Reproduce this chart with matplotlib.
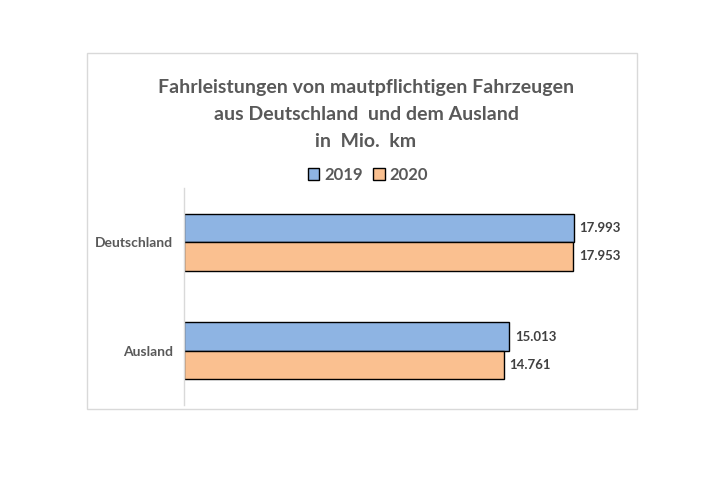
import numpy as np
import matplotlib
matplotlib.use("Agg")
import matplotlib.pyplot as plt
from matplotlib.patches import Rectangle

# Daten (Mio. km)
categories = ["Ausland", "Deutschland"]
values_2019 = [15013, 17993]
values_2020 = [14761, 17953]
series_labels = ["2019", "2020"]

BLUE = "#8EB4E3"
ORANGE = "#FAC090"
GREY = "#595959"
DARK = "#404040"
FONT = "Lato"


def fmt_de(v):
    return f"{v:,}".replace(",", ".")


fig = plt.figure(figsize=(7.27, 4.8), dpi=100)
fig.patch.set_facecolor("white")

# Rahmen um das Diagramm
fig.patches.append(Rectangle((87 / 727, 1 - 409 / 480), 550 / 727, 356 / 480,
                             transform=fig.transFigure, fill=False,
                             edgecolor="#d9d9d9", linewidth=1.0))

ax = fig.add_axes([184 / 727, 1 - 405 / 480, 433 / 727, 217 / 480])

y = np.arange(len(categories))
h = 0.262
bars19 = ax.barh(y + h / 2, values_2019, height=h, color=BLUE,
                 edgecolor="black", linewidth=1.0, label=series_labels[0])
bars20 = ax.barh(y - h / 2, values_2020, height=h, color=ORANGE,
                 edgecolor="black", linewidth=1.0, label=series_labels[1])

for bars, vals in ((bars19, values_2019), (bars20, values_2020)):
    for b, v in zip(bars, vals):
        ax.text(v + 280, b.get_y() + b.get_height() / 2, fmt_de(v),
                ha="left", va="center", fontsize=9.5, fontweight="bold",
                color=DARK, family=FONT)

ax.set_xlim(0, 20000)
ax.set_ylim(-0.5, 1.5)
ax.set_yticks(y)
ax.set_yticklabels(categories, fontsize=10, fontweight="bold", color=GREY,
                   family=FONT)
ax.tick_params(axis="y", length=0, pad=8)
ax.set_xticks([])
for side in ("top", "right", "bottom"):
    ax.spines[side].set_visible(False)
ax.spines["left"].set_color("#d9d9d9")
ax.spines["left"].set_linewidth(1.0)

fig.text(366 / 727, 1 - 114.5 / 480,
         "Fahrleistungen von mautpflichtigen Fahrzeugen\n"
         "aus Deutschland  und dem Ausland\n"
         "in  Mio.  km",
         ha="center", va="center", fontsize=14, fontweight="bold",
         color=GREY, family=FONT, linespacing=1.68)

leg = fig.legend(handles=[bars19, bars20], labels=series_labels,
                 loc="center", bbox_to_anchor=(368 / 727, 1 - 175 / 480),
                 ncol=2, frameon=False, handlelength=0.7, handleheight=0.7,
                 handletextpad=0.3, columnspacing=0.6,
                 prop={"family": FONT, "weight": "bold", "size": 12})
for t in leg.get_texts():
    t.set_color(GREY)

fig.savefig("out.png", dpi=100, facecolor="white")
